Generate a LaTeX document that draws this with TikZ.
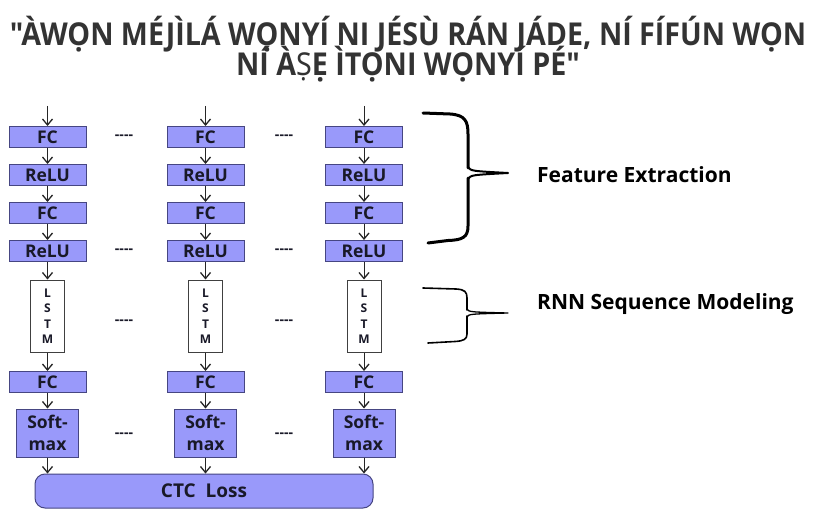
\documentclass[tikz,border=0pt]{standalone}
\usepackage{fontspec}
\setmainfont{Open Sans}
\newfontfamily\ttlfont{Open Sans}[Ligatures=TeXOff]
\newfontfamily\notofont{Noto Sans}[Ligatures=TeXOff]
\usetikzlibrary{arrows.meta}
\definecolor{boxfill}{RGB}{153,153,250}
\definecolor{boxdraw}{RGB}{70,70,130}
\definecolor{txt}{RGB}{25,25,40}
\definecolor{ttl}{RGB}{51,51,51}
\begin{document}
\begin{tikzpicture}[x=1pt,y=-1pt,
  blk/.style={draw=boxdraw, fill=boxfill, line width=1pt, minimum width=77pt, minimum height=21pt, inner sep=0pt, text=txt, font=\bfseries\fontsize{17.5}{17.5}\selectfont},
  lstmbox/.style={draw=black!75, fill=white, line width=1pt, minimum width=34pt, minimum height=72pt, inner sep=0pt, align=center, text=txt, font=\bfseries\fontsize{12}{15.5}\selectfont},
  smx/.style={blk, minimum width=62pt, minimum height=48pt, align=center, font=\bfseries\fontsize{17.5}{22}\selectfont},
  arr/.style={draw=black!85, line width=1pt, -{Straight Barb[length=6pt,width=10pt,line width=1.3pt]}},
  dots/.style={text=txt, font=\bfseries\fontsize{14}{14}\selectfont, inner sep=0pt},
  ttlstyle/.style={text=ttl, font=\ttlfont\bfseries\fontsize{31.5}{31.5}\selectfont, inner sep=0pt, anchor=base, xscale=0.91},
  lbl/.style={text=black, font=\bfseries\fontsize{21}{21}\selectfont, inner sep=0pt, anchor=base west},
  brace/.style={draw=black, line cap=round, line join=round}]
\useasboundingbox (0,0) rectangle (816,516);
\fill[white] (0,0) rectangle (816,516);

% title
\node[ttlstyle] (title1) at (408,46) {"ÀWỌN MÉJÌLÁ WỌNYÍ NI JÉSÙ RÁN JÁDE, NÍ FÍFÚN WỌN};
\node[ttlstyle] (title2) at (408,75.5) {NÍ À{\notofont\bfseries Ṣ}Ẹ ÌTỌNI WỌNYÍ PÉ"};

% CTC loss
\node[blk, minimum width=338pt, minimum height=34pt, rounded corners=10pt, font=\bfseries\fontsize{19}{19}\selectfont] (ctc) at (204,491) {CTC\ \ Loss};

\foreach \i/\x in {1/47.5,2/205.5,3/364}{
  \coordinate (in\i) at (\x,106);
  \node[blk] (fca\i) at (\x,137) {FC};
  \node[blk] (rla\i) at (\x,175) {ReLU};
  \node[blk] (fcb\i) at (\x,213) {FC};
  \node[blk] (rlb\i) at (\x,251) {ReLU};
  \node[lstmbox] (ls\i) at (\x,316) {L\\S\\T\\M};
  \node[blk] (fcc\i) at (\x,382) {FC};
  \node[smx] (sm\i) at (\x,433) {Soft-\\max};
  \draw[arr] (in\i) -- (fca\i);
  \draw[arr] (fca\i) -- (rla\i);
  \draw[arr] (rla\i) -- (fcb\i);
  \draw[arr] (fcb\i) -- (rlb\i);
  \draw[arr] (rlb\i) -- (ls\i);
  \draw[arr] (ls\i) -- (fcc\i);
  \draw[arr] (fcc\i) -- (sm\i);
  \draw[arr] (sm\i) -- (sm\i.south |- ctc.north);
}

% dashes between columns
\foreach \j/\x in {a/124,b/284}{
  \node[dots] (d1\j) at (\x,137) {-{}-{}-{}-};
  \node[dots] (d2\j) at (\x,251) {-{}-{}-{}-};
  \node[dots] (d3\j) at (\x,322) {-{}-{}-{}-};
  \node[dots] (d4\j) at (\x,435) {-{}-{}-{}-};
}

% big brace
\draw[brace, line width=3pt] (423,113) -- (450,114) .. controls (465,115) and (468,121) .. (468,134) -- (468,168)
  (468,178) -- (468,226) .. controls (468,237) and (463,240) .. (448,240.5) -- (428,243);
\draw[brace, line width=2pt] (468,167) .. controls (471,171) .. (508,173) .. controls (471,175) .. (468,179);
% small brace
\draw[brace, line width=1.6pt] (423,288) -- (456,289) .. controls (465,289.5) and (467,292) .. (467,298) -- (467,310)
  (467,316) -- (467,334) .. controls (467,339) and (464,341) .. (455,341.5) -- (428,343);
\draw[brace, line width=1.3pt] (467,309) .. controls (469,312) .. (508,313) .. controls (469,314) .. (467,317);

\node[lbl] (fe) at (537,182) {Feature Extraction};
\node[lbl] (rnn) at (537,309) {RNN Sequence Modeling};
\end{tikzpicture}
\end{document}
